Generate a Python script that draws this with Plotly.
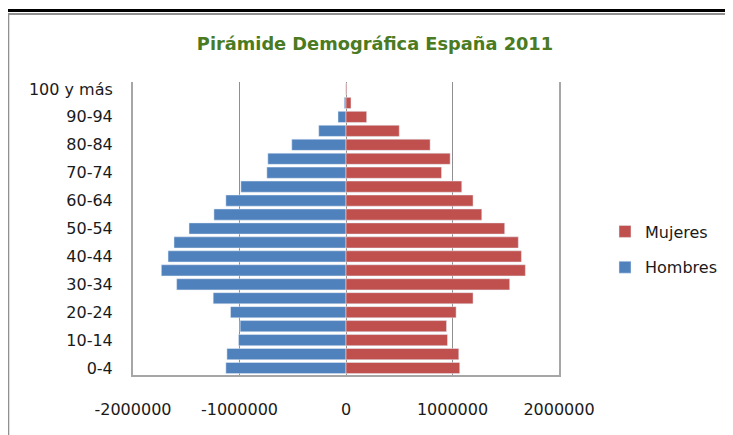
import plotly.graph_objects as go

# grupos de edad, de abajo hacia arriba
edades = ["0-4", "5-9", "10-14", "15-19", "20-24", "25-29", "30-34", "35-39",
          "40-44", "45-49", "50-54", "55-59", "60-64", "65-69", "70-74",
          "75-79", "80-84", "85-89", "90-94", "95-99", "100 y más"]

hombres = [1128000, 1118000, 1009000, 994000, 1084000, 1247000, 1590000, 1734000,
           1671000, 1615000, 1474000, 1240000, 1128000, 987000, 743000,
           734000, 509000, 256000, 75000, 16000, 2000]

mujeres = [1068000, 1059000, 953000, 944000, 1034000, 1193000, 1537000, 1684000,
           1647000, 1618000, 1490000, 1275000, 1193000, 1087000, 897000,
           978000, 790000, 500000, 194000, 47000, 7000]

x_ticks = [-2000000, -1000000, 0, 1000000, 2000000]
x_labels = ["-2000000", "-1000000", "0", "1000000", "2000000"]

FONT = "DejaVu Sans"

fig = go.Figure()

# =========================
# BARRAS
# =========================
fig.add_trace(go.Bar(
    y=edades,
    x=[-v for v in hombres],
    orientation="h",
    name="Hombres",
    legendgroup="h",
    legendrank=2,
    marker=dict(color="#4F81BD"),
))

fig.add_trace(go.Bar(
    y=edades,
    x=mujeres,
    orientation="h",
    name="Mujeres",
    legendgroup="m",
    legendrank=1,
    marker=dict(color="#C0504D"),
))

# la página añade 8px de margen arriba/izquierda
OFF = 8
W, H = 733 - OFF, 435 - OFF
L, R, T, B = 133 - OFF, 173, 82 - OFF, 60
pw, ph = W - L - R, H - T - B

def px(x):
    return (x - OFF - L) / pw

def py(y):
    return (H - B - (y - OFF)) / ph

# marco negro (arriba / izquierda)
fig.add_shape(type="rect", xref="paper", yref="paper",
              x0=px(8), x1=px(760), y0=py(14), y1=py(480),
              line=dict(color="#909090", width=2))
fig.add_shape(type="rect", xref="paper", yref="paper",
              x0=px(5.5), x1=px(760), y0=py(10.5), y1=py(480),
              line=dict(color="black", width=3))

fig.update_layout(
    width=W, height=H,
    margin=dict(l=L, r=R, t=T, b=B),
    paper_bgcolor="white",
    plot_bgcolor="white",
    barmode="overlay",
    bargap=0.2,
    font=dict(family=FONT, size=16, color="#1a1a1a"),
    title=dict(
        text="Pirámide Demográfica España 2011",
        x=(375 - OFF) / W, xanchor="center",
        y=1 - (44 - OFF) / H, yanchor="middle",
        font=dict(family=FONT, size=17.8, color="#4A7A22", weight="bold"),
    ),
    xaxis=dict(
        range=[-2000000, 2000000],
        tickvals=x_ticks,
        ticktext=x_labels,
        showgrid=True,
        gridcolor="#8f8f8f",
        gridwidth=1,
        zeroline=False,
        showline=True,
        linecolor="#a6a6a6",
        linewidth=2,
        ticks="outside",
        ticklen=19,
        tickcolor="rgba(0,0,0,0)",
        fixedrange=True,
    ),
    yaxis=dict(
        type="category",
        categoryorder="array",
        categoryarray=edades,
        tickvals=edades[::2],
        ticktext=edades[::2],
        showgrid=False,
        showline=True,
        mirror=True,
        linecolor="#a6a6a6",
        linewidth=2,
        ticks="outside",
        ticklen=15,
        tickcolor="rgba(0,0,0,0)",
        fixedrange=True,
    ),
    legend=dict(
        traceorder="grouped",
        x=px(605), xanchor="left",
        y=py(249.5), yanchor="middle",
        tracegroupgap=12,
        font=dict(family=FONT, size=16, color="#1a1a1a"),
        bgcolor="rgba(0,0,0,0)",
    ),
)

fig.write_html("out.html")
